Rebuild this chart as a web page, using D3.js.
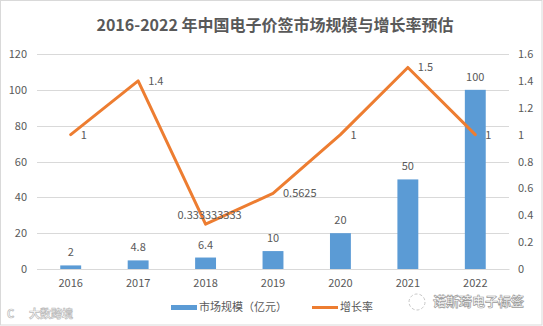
<!DOCTYPE html>
<html><head><meta charset="utf-8">
<script src="https://cdn.jsdelivr.net/npm/d3@7"></script>
<style>
html,body{margin:0;padding:0;background:#fff;}
svg{display:block;font-family:"Noto Sans CJK SC","Liberation Sans",sans-serif;}
</style></head>
<body><svg id="chart" width="543" height="326"></svg>
<script>
const categories = ["2016","2017","2018","2019","2020","2021","2022"];
const marketSize = [2, 4.8, 6.4, 10, 20, 50, 100];
const growthRate = [1, 1.4, 0.333333333, 0.5625, 1, 1.5, 1];
const growthLabels = ["1","1.4","0.333333333","0.5625","1","1.5","1"];
const leftTicks = [0,20,40,60,80,100,120];
const rightTicks = [0,0.2,0.4,0.6,0.8,1,1.2,1.4,1.6];
const title = "2016-2022 年中国电子价签市场规模与增长率预估";
const legendNames = ["市场规模（亿元）","增长率"];

const W = 543, H = 326;
const m = {left:37, right:509, top:54, bottom:269};
const svg = d3.select("#chart");
const txt = "#595959";

svg.append("rect").attr("x",0.5).attr("y",0.5).attr("width",W-1.5).attr("height",H-1.5)
  .attr("fill","#fff").attr("stroke","#d9d9d9");

svg.append("text").attr("x",(m.left+m.right)/2+2).attr("y",27).attr("text-anchor","middle")
  .attr("dominant-baseline","middle").attr("font-size",16).attr("font-weight","bold")
  .attr("fill",txt).text(title);

const x = d3.scaleBand().domain(categories).range([m.left,m.right]).paddingInner(0.69).paddingOuter(0.345);
const xc = d3.scaleBand().domain(categories).range([m.left,m.right]);
const yL = d3.scaleLinear().domain([0,120]).range([m.bottom,m.top]);
const yR = d3.scaleLinear().domain([0,1.6]).range([m.bottom,m.top]);

// gridlines
svg.append("g").selectAll("line").data(leftTicks).join("line")
  .attr("x1",m.left).attr("x2",m.right)
  .attr("y1",d=>Math.round(yL(d))+0.5).attr("y2",d=>Math.round(yL(d))+0.5)
  .attr("stroke","#d9d9d9").attr("stroke-width",1);

// left axis
const gl = svg.append("g").attr("transform",`translate(${m.left},0)`)
  .call(d3.axisLeft(yL).tickValues(leftTicks).tickSize(0).tickPadding(10));
gl.select(".domain").remove();
gl.selectAll("text").attr("font-size",11).attr("fill",txt).attr("font-family","'Noto Sans CJK SC',sans-serif");

// right axis
const gr = svg.append("g").attr("transform",`translate(${m.right},0)`)
  .call(d3.axisRight(yR).tickValues(rightTicks).tickSize(0).tickPadding(9).tickFormat(d3.format("~g")));
gr.select(".domain").remove();
gr.selectAll("text").attr("font-size",11).attr("fill",txt).attr("font-family","'Noto Sans CJK SC',sans-serif");

// x axis
const gx = svg.append("g").attr("transform",`translate(0,${m.bottom})`)
  .call(d3.axisBottom(xc).tickSize(0).tickPadding(10));
gx.select(".domain").attr("stroke","#d9d9d9");
gx.selectAll("text").attr("font-size",11).attr("fill",txt).attr("font-family","'Noto Sans CJK SC',sans-serif");

// bars
svg.append("g").selectAll("rect").data(marketSize).join("rect")
  .attr("x",(d,i)=>x(categories[i])).attr("width",x.bandwidth())
  .attr("y",d=>yL(d)).attr("height",d=>yL(0)-yL(d)).attr("fill","#5B9BD5");

svg.append("g").selectAll("text").data(marketSize).join("text")
  .attr("x",(d,i)=>xc(categories[i])+xc.bandwidth()/2).attr("y",d=>yL(d)-9)
  .attr("text-anchor","middle").attr("font-size",11).attr("fill",txt).text(d=>d);

// line
const cx = i=>xc(categories[i])+xc.bandwidth()/2;
const line = d3.line().x((d,i)=>cx(i)).y(d=>yR(d));
svg.append("path").datum(growthRate).attr("d",line).attr("fill","none")
  .attr("stroke","#ED7D31").attr("stroke-width",3).attr("stroke-linejoin","round").attr("stroke-linecap","round");

svg.append("g").selectAll("text").data(growthRate).join("text")
  .attr("x",(d,i)=> i===2 ? cx(i)+4 : cx(i)+10)
  .attr("y",(d,i)=> i===2 ? yR(d)-8 : yR(d)+1)
  .attr("text-anchor",(d,i)=> i===2 ? "middle":"start")
  .attr("dominant-baseline","middle").attr("font-size",11).attr("fill",txt)
  .text((d,i)=>growthLabels[i]);

// legend
const lg = svg.append("g");
lg.append("rect").attr("x",171).attr("y",305).attr("width",26).attr("height",5).attr("fill","#5B9BD5");
lg.append("text").attr("x",199).attr("y",308).attr("dominant-baseline","middle").attr("font-size",11).attr("fill",txt).text(legendNames[0]);
lg.append("line").attr("x1",312).attr("x2",338).attr("y1",307.5).attr("y2",307.5).attr("stroke","#ED7D31").attr("stroke-width",3);
lg.append("text").attr("x",340).attr("y",308).attr("dominant-baseline","middle").attr("font-size",11).attr("fill",txt).text(legendNames[1]);

// watermarks
svg.append("text").attr("x",433).attr("y",302).attr("dominant-baseline","middle").attr("font-size",13)
  .attr("fill","#fff").attr("stroke","#9a9a9a").attr("stroke-width",0.7).attr("font-weight","bold").text("诺斯琦电子标签");
svg.append("circle").attr("cx",417).attr("cy",302).attr("r",8).attr("fill","none").attr("stroke","#c8c8c8").attr("stroke-dasharray","3,2");
svg.append("text").attr("x",29).attr("y",315).attr("dominant-baseline","middle").attr("font-size",11)
  .attr("fill","#fff").attr("stroke","#bcbcbc").attr("stroke-width",0.7).attr("font-weight","bold").text("大数跨境");
svg.append("text").attr("x",7).attr("y",315).attr("dominant-baseline","middle").attr("font-size",11)
  .attr("fill","#fff").attr("stroke","#bcbcbc").attr("stroke-width",0.7).attr("font-weight","bold").text("C");
</script></body></html>
